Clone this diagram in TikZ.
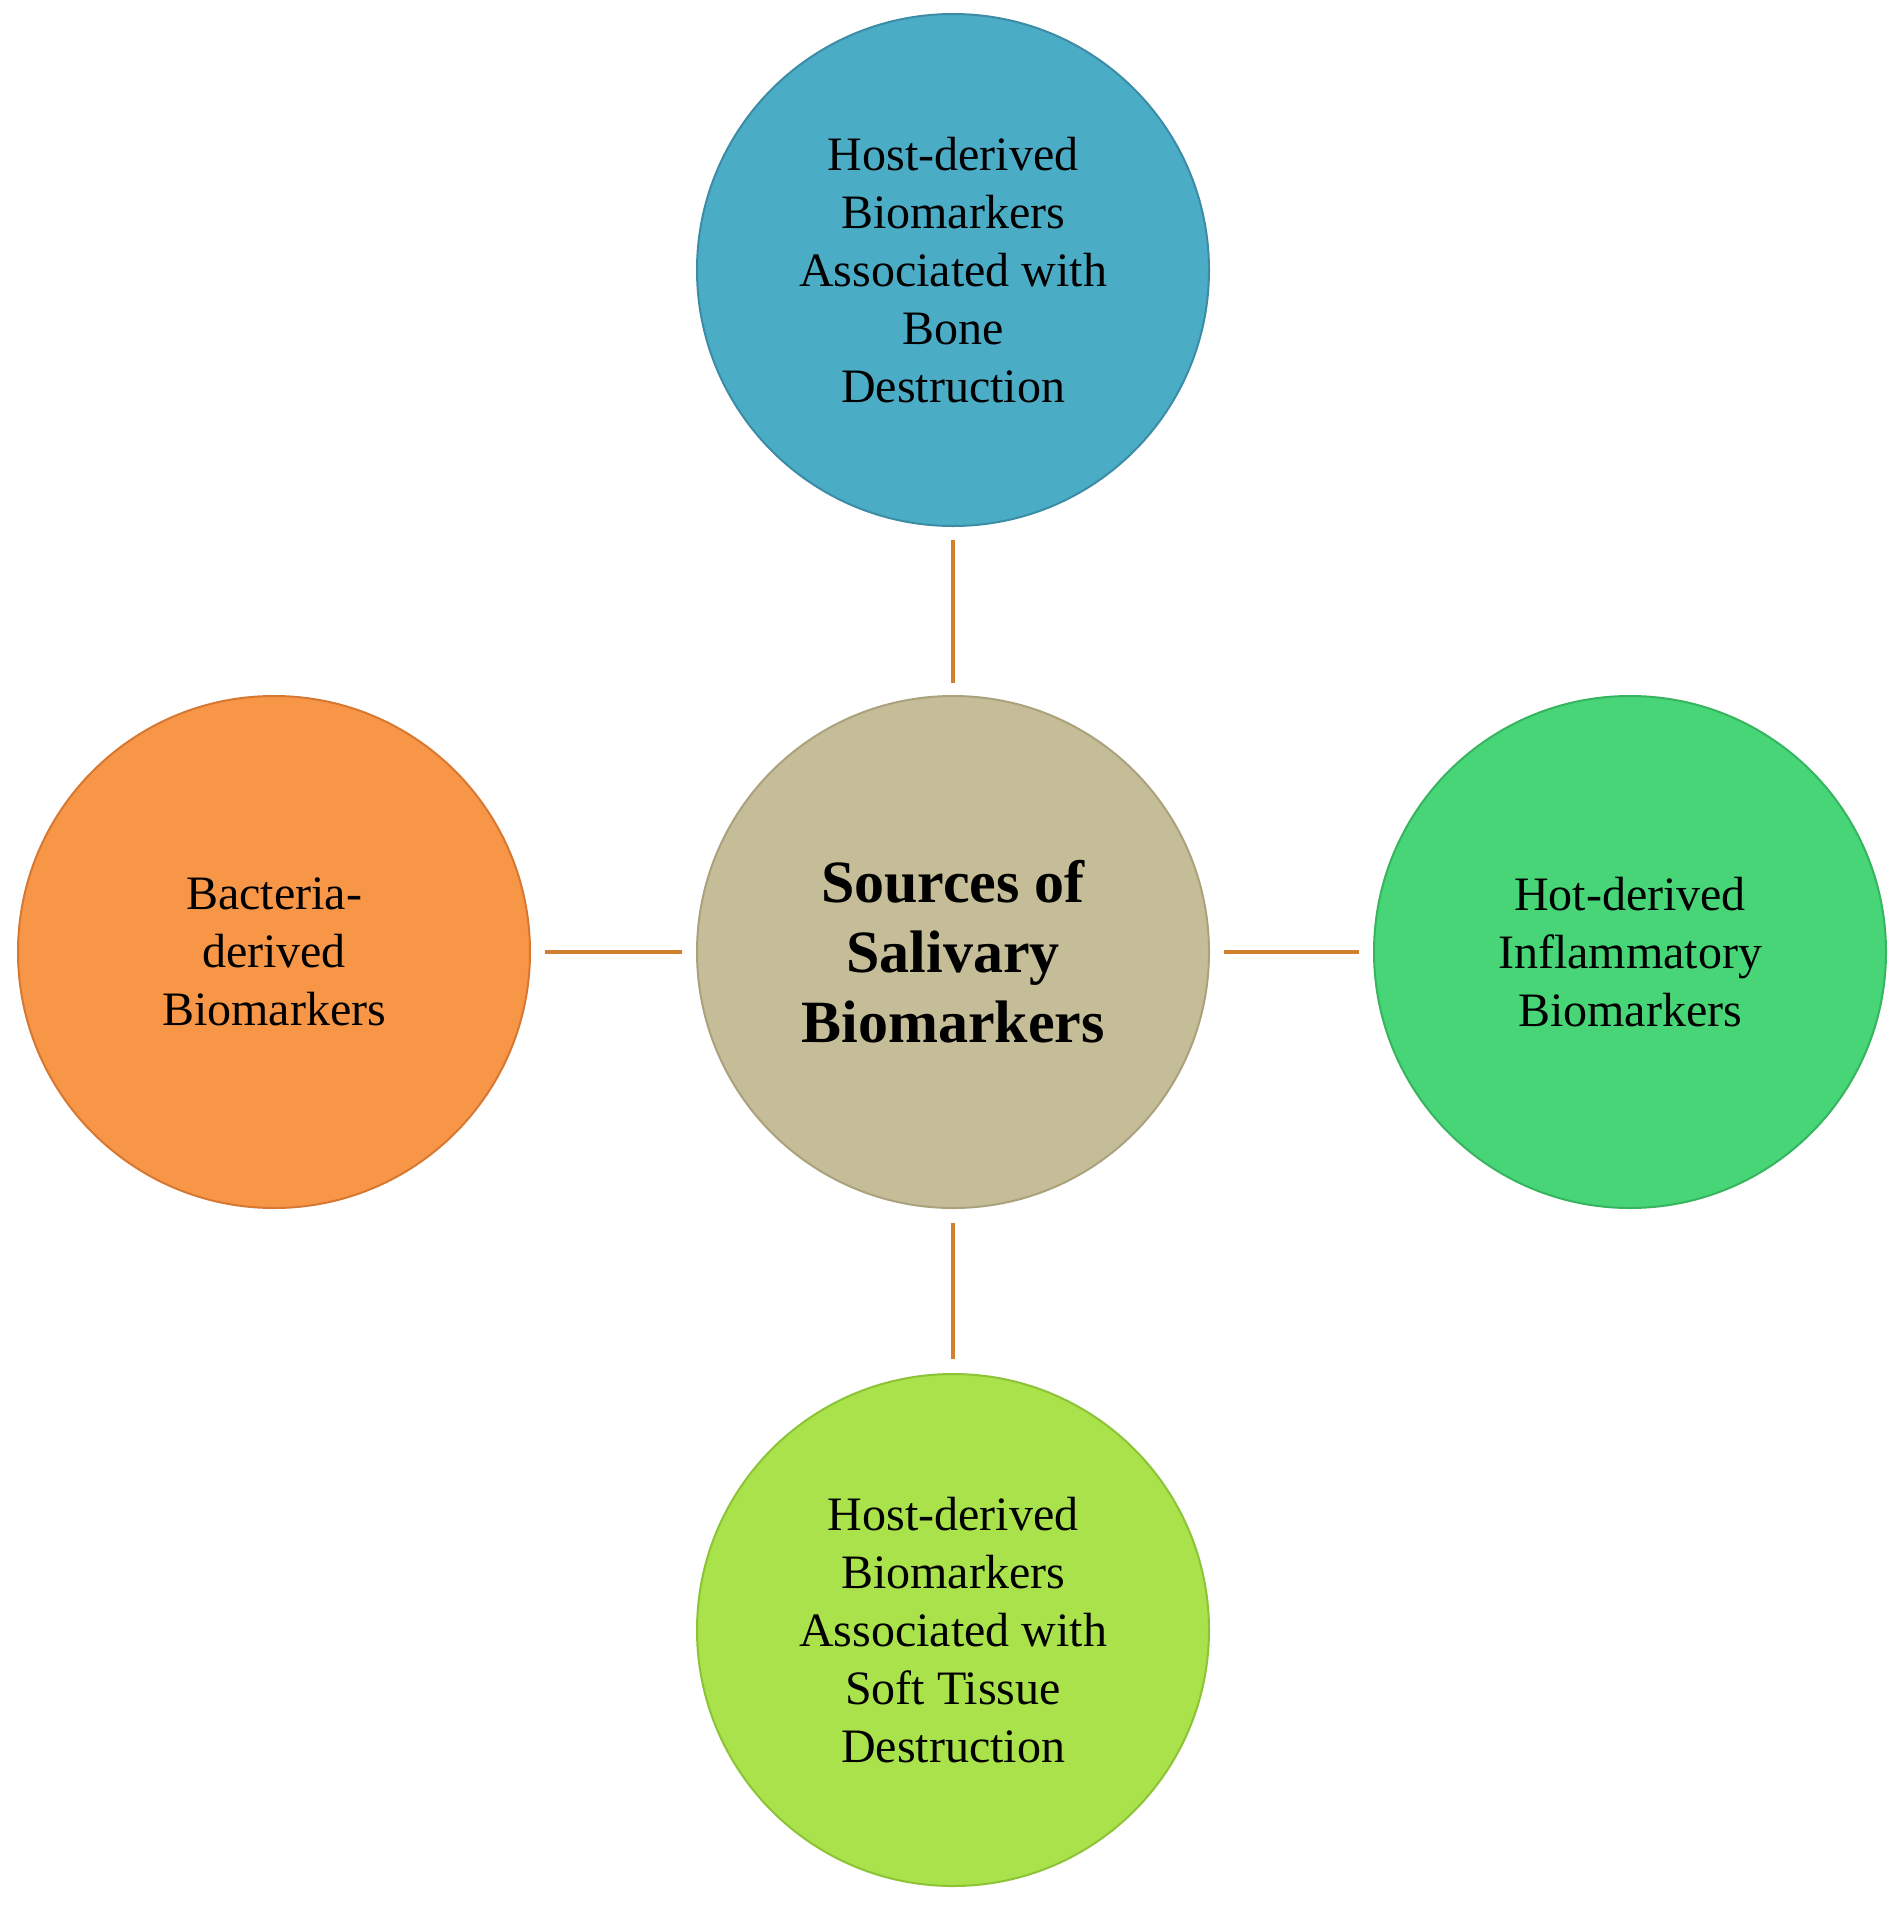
\documentclass[tikz,border=0pt]{standalone}
\usepackage{fontspec}
\setmainfont{Liberation Serif}
\begin{document}
\begin{tikzpicture}[x=1pt,y=-1pt,
  circ/.style={circle,minimum size=512pt,inner sep=0pt,line width=2pt,align=center,font=\fontsize{48}{58}\selectfont},
  link/.style={draw=brown!70!orange,line width=4pt,shorten <=14pt,shorten >=14pt}]
\useasboundingbox (0,0) rectangle (1902,1908);
\node[circ,fill={rgb,255:red,75;green,172;blue,198},draw={rgb,255:red,60;green,140;blue,165}] (top) at (953,270) {Host-derived\\Biomarkers\\Associated with\\Bone\\Destruction};
\node[circ,fill={rgb,255:red,196;green,189;blue,151},draw={rgb,255:red,170;green,162;blue,125},font=\bfseries\fontsize{60}{70}\selectfont] (c) at (953,952) {Sources of\\Salivary\\Biomarkers};
\node[circ,fill={rgb,255:red,247;green,150;blue,70},draw={rgb,255:red,215;green,120;blue,50}] (l) at (274,952) {Bacteria-\\derived\\Biomarkers};
\node[circ,fill={rgb,255:red,71;green,213;blue,119},draw={rgb,255:red,55;green,180;blue,95}] (r) at (1630,952) {Hot-derived\\Inflammatory\\Biomarkers};
\node[circ,fill={rgb,255:red,169;green,226;blue,74},draw={rgb,255:red,140;green,195;blue,55}] (b) at (953,1630) {Host-derived\\Biomarkers\\Associated with\\Soft Tissue\\Destruction};
\draw[link,shorten <=13pt,shorten >=12pt] (top) -- (c);
\draw[link] (c) -- (b);
\draw[link] (l) -- (c);
\draw[link] (c) -- (r);
\end{tikzpicture}
\end{document}
